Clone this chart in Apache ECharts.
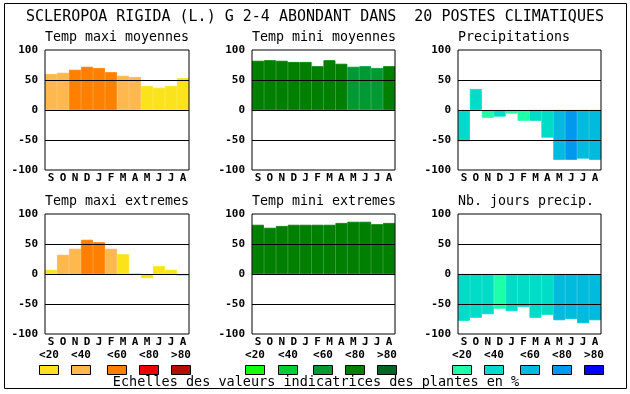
<!DOCTYPE html>
<html><head><meta charset="utf-8">
<script src="https://cdn.jsdelivr.net/npm/echarts@6/dist/echarts.min.js"></script>
<style>html,body{margin:0;padding:0;background:#fff}#c{width:630px;height:394px}</style>
</head><body><div id="c"></div>
<script>
// ---- data ----
const months = ['S','O','N','D','J','F','M','A','M','J','J','A'];
const yTicks = [-100, -50, 0, 50, 100];
const mainTitle = 'SCLEROPOA RIGIDA (L.) G 2-4 ABONDANT DANS  20 POSTES CLIMATIQUES';
const panelTitles = ['Temp maxi moyennes','Temp mini moyennes','Precipitations','Temp maxi extremes','Temp mini extremes','Nb. jours precip.'];
const tmaxMoy  = [60, 62, 67, 72, 70, 63, 57, 55, 40, 37, 40, 53];
const tminMoy  = [82, 83, 82, 80, 80, 73, 83, 77, 72, 73, 70, 73];
const precip   = [-52, 35, -13, -11, -6, -18, -18, -46, -83, -83, -81, -83];
const tmaxExt  = [7, 32, 42, 57, 53, 42, 33, 0, -7, 13, 7, -3];
const tminExt  = [82, 77, 80, 82, 82, 82, 82, 85, 87, 87, 83, 85];
const nbJours  = [-78, -73, -67, -58, -62, -55, -73, -68, -77, -75, -82, -77];
// class index (0:<20 1:<40 2:<60 3:<80 4:>80) of each bar
const tmaxMoyCls = [1,1,2,2,2,2,1,1,0,0,0,0];
const tminMoyCls = [3,3,3,3,3,3,3,3,2,2,2,3];
const precipCls  = [1,1,0,1,0,0,1,1,2,3,2,2];
const tmaxExtCls = [0,1,1,2,2,1,0,0,0,0,0,0];
const tminExtCls = [3,3,3,3,3,3,3,3,3,3,3,3];
const nbJoursCls = [1,1,1,0,1,1,1,1,2,2,2,2];
const legendLabels = ['<20','<40','<60','<80','>80'];
const warmColors  = ['#FAE31A','#FFB84D','#FF8000','#EE0000','#B01000'];
const greenColors = ['#11FF11','#00CC33','#009933','#007F00','#006622'];
const blueColors  = ['#1EFFAA','#00DCC8','#00BBDD','#0099EE','#0000FF'];
const caption = 'Echelles des valeurs indicatrices des plantes en %';

// ---- layout ----
const FONT = 'DejaVu Sans Mono';
const cols = [{left:45,width:144},{left:252,width:143},{left:458,width:143}];
const rows = [{top:50,height:120},{top:214,height:120}];
const panels = [
  {vals:tmaxMoy, cls:tmaxMoyCls, pal:warmColors},
  {vals:tminMoy, cls:tminMoyCls, pal:greenColors},
  {vals:precip,  cls:precipCls,  pal:blueColors},
  {vals:tmaxExt, cls:tmaxExtCls, pal:warmColors},
  {vals:tminExt, cls:tminExtCls, pal:greenColors},
  {vals:nbJours, cls:nbJoursCls, pal:blueColors}
];

const grid=[], xAxis=[], yAxis=[], series=[], graphic=[];
panels.forEach((p,i)=>{
  const c = cols[i%3], r = rows[Math.floor(i/3)];
  grid.push({left:c.left, width:c.width, top:r.top, height:r.height, show:true,
    borderColor:'#000', borderWidth:1, backgroundColor:'transparent', z:10});
  xAxis.push({type:'category', gridIndex:i, data:months,
    axisLine:{show:false}, axisTick:{show:false},
    axisLabel:{interval:0, margin:3, color:'#000', fontFamily:FONT, fontWeight:'bold', fontSize:11}});
  yAxis.push({type:'value', gridIndex:i, min:yTicks[0], max:yTicks[yTicks.length-1], interval:50,
    axisLine:{show:false}, axisTick:{show:false}, splitLine:{show:false},
    axisLabel:{margin:7, color:'#000', fontFamily:FONT, fontWeight:'bold', fontSize:11}});
  series.push({type:'bar', xAxisIndex:i, yAxisIndex:i, barWidth:'100%', barGap:'0%',
    data:p.vals.map((v,k)=>{
      const col = p.pal[p.cls[k]];
      return {value:v, itemStyle:{color:col, borderColor:col, borderWidth:0.8}};
    }),
    markLine:{silent:true, symbol:'none', label:{show:false},
      lineStyle:{color:'#000', type:'solid', width:1},
      data:[{yAxis:50},{yAxis:0},{yAxis:-50}]}});
  graphic.push({type:'text', left:c.left, top:r.top-19,
    style:{text:panelTitles[i], font:'13.3px "'+FONT+'"', fill:'#000'}});
});

graphic.push({type:'text', left:'center', top:10,
  style:{text:mainTitle, font:'15px "'+FONT+'"', fill:'#000'}});
graphic.push({type:'rect', shape:{x:4.5,y:3.5,width:622,height:385}, style:{fill:'none',stroke:'#000',lineWidth:1}, z:-1});

const legendX = [[39,71,107,139,171],[245,278,313,345,377],[452,484,520,552,584]];
[warmColors, greenColors, blueColors].forEach((pal,g)=>{
  pal.forEach((col,k)=>{
    const x = legendX[g][k];
    graphic.push({type:'rect', shape:{x:x+0.5,y:365.5,width:19,height:9}, style:{fill:col,stroke:'#000',lineWidth:1}});
    graphic.push({type:'text', x:x+10, y:355,
      style:{text:legendLabels[k], font:'bold 11px "'+FONT+'"', fill:'#000', textAlign:'center', textVerticalAlign:'middle'}});
  });
});
graphic.push({type:'text', x:316, y:382,
  style:{text:caption, font:'13.5px "'+FONT+'"', fill:'#000', textAlign:'center', textVerticalAlign:'middle'}});

const chart = echarts.init(document.getElementById('c'), null, {renderer:'canvas'});
chart.setOption({animation:false, backgroundColor:'#fff', grid, xAxis, yAxis, series, graphic});
</script></body></html>
